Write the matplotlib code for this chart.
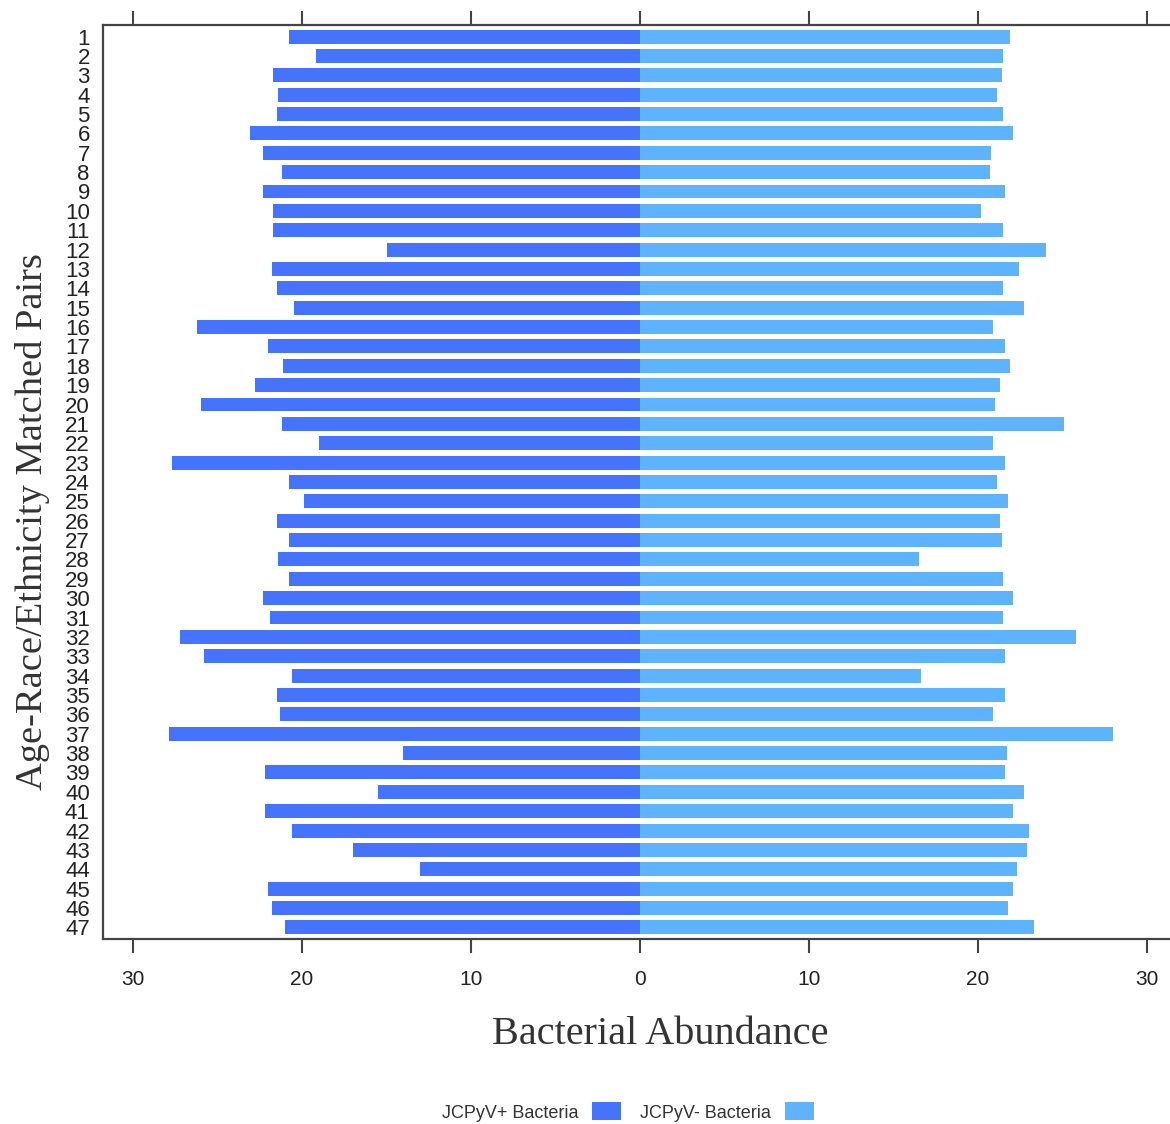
import matplotlib
matplotlib.use('Agg')
import matplotlib.pyplot as plt

# Matched pair ids (1..47)
pairs = list(range(1, 48))

# JCPyV+ bacterial abundance (drawn to the left)
jcpyv_pos = [20.8, 19.2, 21.7, 21.4, 21.5, 23.1, 22.3, 21.2, 22.3, 21.7,
             21.7, 15.0, 21.8, 21.5, 20.5, 26.2, 22.0, 21.1, 22.8, 26.0,
             21.2, 19.0, 27.7, 20.8, 19.9, 21.5, 20.8, 21.4, 20.8, 22.3,
             21.9, 27.2, 25.8, 20.6, 21.5, 21.3, 27.9, 14.0, 22.2, 15.5,
             22.2, 20.6, 17.0, 13.0, 22.0, 21.8, 21.0]

# JCPyV- bacterial abundance (drawn to the right)
jcpyv_neg = [21.9, 21.5, 21.4, 21.1, 21.5, 22.1, 20.8, 20.7, 21.6, 20.2,
             21.5, 24.0, 22.4, 21.5, 22.7, 20.9, 21.6, 21.9, 21.3, 21.0,
             25.1, 20.9, 21.6, 21.1, 21.8, 21.3, 21.4, 16.5, 21.5, 22.1,
             21.5, 25.8, 21.6, 16.6, 21.6, 20.9, 28.0, 21.7, 21.6, 22.7,
             22.1, 23.0, 22.9, 22.3, 22.1, 21.8, 23.3]

xticks = [-30, -20, -10, 0, 10, 20, 30]
xticklabels = ['30', '20', '10', '0', '10', '20', '30']

dark = '#4673fc'
light = '#5eb3fd'
grey = '#444444'

fig = plt.figure(figsize=(11.7, 11.24), dpi=100)
ax = fig.add_axes([0.088, 0.1646, 0.918, 0.8132])

neg_left = [-v for v in jcpyv_pos]
b1 = ax.barh(pairs, neg_left, height=0.72, color=dark, label='JCPyV+ Bacteria')
b2 = ax.barh(pairs, jcpyv_neg, height=0.72, color=light, label='JCPyV- Bacteria')

ax.set_xlim(-31.78, 31.78)
ax.set_ylim(47.6, 0.4)

ax.set_yticks(pairs)
ax.set_yticklabels([str(p) for p in pairs], fontsize=16, color='#222222',
                   family='Liberation Sans')
ax.tick_params(axis='y', length=0, pad=9.5)

ax.set_xticks(xticks)
ax.set_xticklabels(xticklabels, fontsize=15, color='#222222', family='Liberation Sans')
ax.tick_params(axis='x', direction='out', length=10, width=1.5, color=grey,
               pad=12.5, top=True, bottom=True, labeltop=False)

for side in ['left', 'top', 'bottom']:
    ax.spines[side].set_color(grey)
    ax.spines[side].set_linewidth(1.6)
ax.spines['right'].set_visible(False)

fig.text(660 / 1170, 1 - 1034 / 1124, 'Bacterial Abundance', ha='center', va='center',
         fontsize=29, family='Liberation Serif', color='#333333')
fig.text(33 / 1170, 1 - 522 / 1124, 'Age-Race/Ethnicity Matched Pairs', ha='center',
         va='center', rotation=90, fontsize=27.7, family='Liberation Serif', color='#333333')

leg = fig.legend(handles=[b1, b2], loc='center', bbox_to_anchor=(628 / 1170, 1 - 1112 / 1124),
                 ncol=2, frameon=False, markerfirst=False,
                 handlelength=1.6, handleheight=1.15, handletextpad=0.75, columnspacing=1.05,
                 prop={'family': 'Liberation Sans', 'size': 13})
for t in leg.get_texts():
    t.set_color('#333333')

fig.savefig('out.png', dpi=100)
